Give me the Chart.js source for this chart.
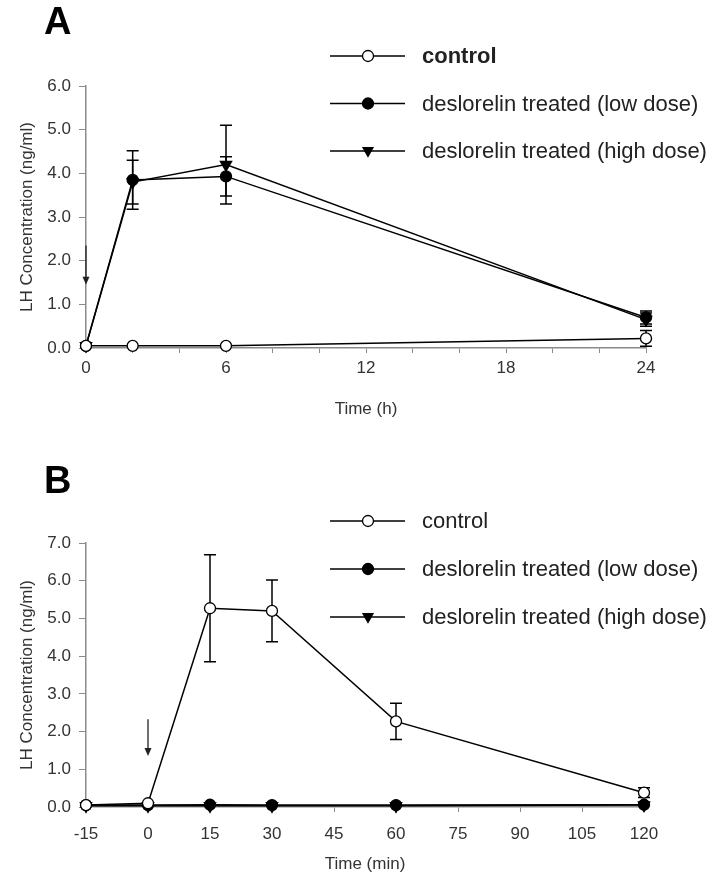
<!DOCTYPE html>
<html>
<head>
<meta charset="utf-8">
<title>LH concentration</title>
<script src="https://cdn.jsdelivr.net/npm/chart.js@4.4.1/dist/chart.umd.min.js"></script>
<style>
    body { margin: 0; background: #fff; }
    #wrap { position: relative; width: 728px; height: 875px; }
    canvas { position: absolute; left: 0; }
    #chartA { top: 0; }
    #chartB { top: 430px; }
</style>
</head>
<body>
<div id="wrap">
    <canvas id="chartA" width="728" height="430"></canvas>
    <canvas id="chartB" width="728" height="445"></canvas>
</div>
<script>
// Panel A - time in hours
const timeA = [0, 2, 6, 24];
const controlA = [0.05, 0.05, 0.05, 0.22];
const controlErrA = [0, 0, 0, 0.18];
const lowA = [0.05, 3.85, 3.93, 0.70];
const lowErrA = [0, 0.67, 0.45, 0.15];
const highA = [0.05, 3.80, 4.20, 0.65];
const highErrA = [0, 0.50, 0.90, 0.15];
const arrowA = [0, 2.35, 1.45];   // x, from, to

// Panel B - time in minutes
const timeB = [-15, 0, 15, 30, 60, 120];
const controlB = [0.05, 0.10, 5.27, 5.20, 2.27, 0.38];
const controlErrB = [0, 0, 1.42, 0.82, 0.48, 0.13];
const lowB = [0.05, 0.05, 0.06, 0.05, 0.05, 0.06];
const lowErrB = [0, 0, 0, 0, 0, 0];
const highB = [0.03, 0.03, 0.03, 0.03, 0.03, 0.05];
const highErrB = [0, 0, 0, 0, 0, 0];
const arrowB = [0, 2.33, 1.35];

const seriesLabels = ['control', 'deslorelin treated (low dose)', 'deslorelin treated (high dose)'];

const FONT = '"Liberation Sans", Arial, sans-serif';
const AXIS_GREY = '#8a8a8a';
const TEXT = '#333';

// Draw a marker like the chart's points (used for the legend)
function drawMarker(ctx, style, x, y, r, fill) {
    ctx.beginPath();
    if (style === 'circle') {
        ctx.arc(x, y, r, 0, Math.PI * 2);
    } else {
        ctx.moveTo(x, y + r);
        ctx.lineTo(x - r * 0.9, y - r * 0.6);
        ctx.lineTo(x + r * 0.9, y - r * 0.6);
        ctx.closePath();
    }
    ctx.fillStyle = fill;
    ctx.fill();
    ctx.lineWidth = 1.3;
    ctx.strokeStyle = '#000';
    ctx.stroke();
}

// Error bars, arrow, panel letter and legend
const decorPlugin = {
    id: 'decor',
    beforeDatasetsDraw(chart) {
        const ctx = chart.ctx;
        const xs = chart.scales.x, ys = chart.scales.y;
        ctx.save();
        ctx.strokeStyle = '#000';
        ctx.lineWidth = 1.5;
        chart.data.datasets.forEach(ds => {
            ds.data.forEach((p, i) => {
                const e = ds.errors[i];
                if (!e) return;
                const px = xs.getPixelForValue(p.x);
                const top = ys.getPixelForValue(p.y + e);
                const bot = ys.getPixelForValue(p.y - e);
                ctx.beginPath();
                ctx.moveTo(px, top); ctx.lineTo(px, bot);
                ctx.moveTo(px - 6, top); ctx.lineTo(px + 6, top);
                ctx.moveTo(px - 6, bot); ctx.lineTo(px + 6, bot);
                ctx.stroke();
            });
        });
        ctx.restore();
    },
    afterDraw(chart, args, opts) {
        const ctx = chart.ctx;
        const xs = chart.scales.x, ys = chart.scales.y;
        ctx.save();

        // stimulation arrow
        const ax = xs.getPixelForValue(opts.arrow[0]);
        const a1 = ys.getPixelForValue(opts.arrow[1]);
        const a2 = ys.getPixelForValue(opts.arrow[2]);
        ctx.strokeStyle = '#222';
        ctx.fillStyle = '#222';
        ctx.lineWidth = 1.3;
        ctx.beginPath();
        ctx.moveTo(ax, a1); ctx.lineTo(ax, a2 - 6);
        ctx.stroke();
        ctx.beginPath();
        ctx.moveTo(ax, a2); ctx.lineTo(ax - 3.5, a2 - 8); ctx.lineTo(ax + 3.5, a2 - 8);
        ctx.closePath();
        ctx.fill();

        // panel letter
        ctx.fillStyle = '#000';
        ctx.font = 'bold 38px ' + FONT;
        ctx.textBaseline = 'middle';
        ctx.textAlign = 'left';
        ctx.fillText(opts.letter, 44, opts.letterY);

        // legend
        chart.data.datasets.forEach((ds, i) => {
            const y = opts.legendY + i * opts.legendGap;
            ctx.strokeStyle = '#000';
            ctx.lineWidth = 1.5;
            ctx.beginPath();
            ctx.moveTo(330, y); ctx.lineTo(405, y);
            ctx.stroke();
            drawMarker(ctx, ds.pointStyle, 368, y, 5.5, ds.pointBackgroundColor);
            ctx.fillStyle = '#222';
            ctx.font = (i === 0 && opts.boldFirst ? 'bold ' : '') + '22px ' + FONT;
            ctx.fillText(ds.label, 422, y + 1);
        });
        ctx.restore();
    }
};

function makeDatasets(time, series, errs) {
    const styles = [
        { pointStyle: 'circle', pointBackgroundColor: '#fff', pointRadius: 5.5, pointRotation: 0 },
        { pointStyle: 'circle', pointBackgroundColor: '#000', pointRadius: 5.5, pointRotation: 0 },
        { pointStyle: 'triangle', pointBackgroundColor: '#000', pointRadius: 6.5, pointRotation: 180 }
    ];
    return series.map((vals, i) => Object.assign({
        label: seriesLabels[i],
        data: time.map((t, j) => ({ x: t, y: vals[j] })),
        errors: errs[i],
        borderColor: '#000',
        borderWidth: 1.5,
        pointBorderColor: '#000',
        pointBorderWidth: 1.3,
        tension: 0,
        clip: false
    }, styles[i]));
}

function makeOptions(cfg) {
    return {
        responsive: false,
        animation: false,
        layout: { padding: { left: 17, top: cfg.top, right: 728 - cfg.right, bottom: cfg.bottomPad } },
        plugins: {
            legend: { display: false },
            tooltip: { enabled: false },
            decor: cfg.decor
        },
        scales: {
            x: {
                type: 'linear',
                min: cfg.xMin,
                max: cfg.xMax,
                border: { display: true, color: AXIS_GREY, width: 1.5 },
                grid: { drawOnChartArea: false, drawTicks: true, tickLength: 5, color: AXIS_GREY },
                ticks: {
                    stepSize: cfg.xStep,
                    autoSkip: false,
                    maxRotation: 0,
                    padding: cfg.xPad,
                    color: TEXT,
                    font: { family: FONT, size: 17 },
                    callback: cfg.xLabel
                },
                title: {
                    display: true,
                    text: cfg.xTitle,
                    color: TEXT,
                    padding: 0,
                    font: { family: FONT, size: 17 }
                },
                afterFit: s => { s.height = cfg.xHeight; }
            },
            y: {
                min: 0,
                max: cfg.yMax,
                border: { display: true, color: AXIS_GREY, width: 1.5 },
                grid: { drawOnChartArea: false, drawTicks: true, tickLength: 7, color: AXIS_GREY },
                ticks: {
                    stepSize: 1,
                    padding: 8,
                    color: TEXT,
                    font: { family: FONT, size: 17 },
                    callback: v => v.toFixed(1)
                },
                title: {
                    display: true,
                    text: 'LH Concentration (ng/ml)',
                    color: TEXT,
                    padding: 0,
                    font: { family: FONT, size: 17 }
                },
                afterFit: s => { s.width = 69; }
            }
        }
    };
}

new Chart(document.getElementById('chartA'), {
    type: 'line',
    data: { datasets: makeDatasets(timeA, [controlA, lowA, highA], [controlErrA, lowErrA, highErrA]) },
    options: makeOptions({
        top: 86, right: 646, bottomPad: 10, xMin: 0, xMax: 24, xStep: 2, xPad: 5, xHeight: 72,
        xLabel: v => (v % 6 === 0 ? v : ''),
        xTitle: 'Time (h)', yMax: 6,
        decor: { letter: 'A', letterY: 24, legendY: 56, legendGap: 47.5, boldFirst: true, arrow: arrowA }
    }),
    plugins: [decorPlugin]
});

new Chart(document.getElementById('chartB'), {
    type: 'line',
    data: { datasets: makeDatasets(timeB, [controlB, lowB, highB], [controlErrB, lowErrB, highErrB]) },
    options: makeOptions({
        top: 113, right: 644, bottomPad: 0, xMin: -15, xMax: 120, xStep: 15, xPad: 12, xHeight: 68,
        xLabel: v => v,
        xTitle: 'Time (min)', yMax: 7,
        decor: { letter: 'B', letterY: 53, legendY: 91, legendGap: 48, boldFirst: false, arrow: arrowB }
    }),
    plugins: [decorPlugin]
});
</script>
</body>
</html>
